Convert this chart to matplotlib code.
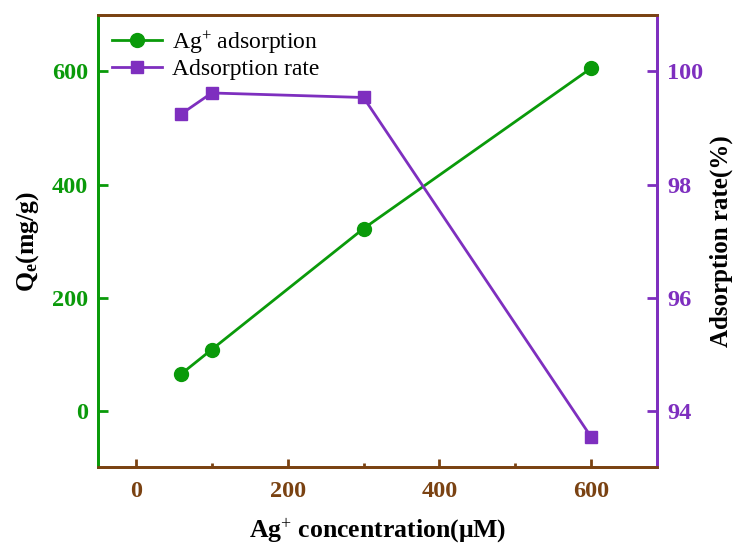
import matplotlib
matplotlib.use('Agg')
import matplotlib.pyplot as plt
from matplotlib.ticker import MultipleLocator

plt.rcParams['font.family'] = 'Liberation Serif'
plt.rcParams['mathtext.fontset'] = 'custom'
plt.rcParams['mathtext.rm'] = 'Liberation Serif'
plt.rcParams['mathtext.it'] = 'Liberation Serif:italic'
plt.rcParams['mathtext.bf'] = 'Liberation Serif:bold'

conc = [60, 100, 300, 600]
qe = [65, 108, 322, 606]
rate = [99.25, 99.62, 99.54, 93.53]

green = '#0a9a0a'
purple = '#7e2fbf'
brown = '#7a4212'

fig = plt.figure(figsize=(7.36, 5.45), dpi=100)
ax = fig.add_axes([0.133, 0.143, 0.76, 0.8295])
ax2 = ax.twinx()

l1, = ax.plot(conc, qe, '-o', color=green, lw=2, ms=10, label='Ag$^{+}$ adsorption')
l2, = ax2.plot(conc, rate, '-s', color=purple, lw=2, ms=9, label='Adsorption rate')

ax.set_xlim(-50, 687)
ax.set_ylim(-100, 700)
ax2.set_ylim(93, 101)

ax.xaxis.set_major_locator(MultipleLocator(200))
ax.xaxis.set_minor_locator(MultipleLocator(100))
ax.yaxis.set_major_locator(MultipleLocator(200))
ax2.yaxis.set_major_locator(MultipleLocator(2))

for a in (ax, ax2):
    for s in a.spines.values():
        s.set_linewidth(2)
    a.spines['bottom'].set_color(brown)
    a.spines['top'].set_color(brown)
    a.spines['left'].set_color(green)
    a.spines['right'].set_color(purple)

ax.tick_params(axis='x', which='major', direction='in', length=6, width=2, color=brown, labelcolor=brown, labelsize=17.5, pad=10)
ax.tick_params(axis='x', which='minor', direction='in', length=3, width=2, color=brown)
ax.tick_params(axis='y', direction='in', length=7, width=2, color=green, labelcolor=green, labelsize=17.5, pad=7)
ax2.tick_params(axis='y', direction='in', length=7, width=2, color=purple, labelcolor=purple, labelsize=17.5, pad=7)
for lab in ax.get_xticklabels() + ax.get_yticklabels() + ax2.get_yticklabels():
    lab.set_fontweight('bold')

ax.set_xlabel(r'Ag$^{+}$ concentration($\mathbf{\mu}$M)', fontsize=18.5, fontweight='bold', labelpad=10)
ax.set_ylabel(r'Q$_{\mathbf{e}}$(mg/g)', fontsize=18.5, fontweight='bold', labelpad=8)
ax2.set_ylabel('Adsorption rate(%)', fontsize=18, fontweight='bold', labelpad=5)

ax.legend(handles=[l1, l2], loc='upper left', frameon=False, fontsize=17,
          handlelength=2.1, handletextpad=0.45, borderaxespad=0.2, labelspacing=0.12)

fig.savefig('out.png', dpi=100)
